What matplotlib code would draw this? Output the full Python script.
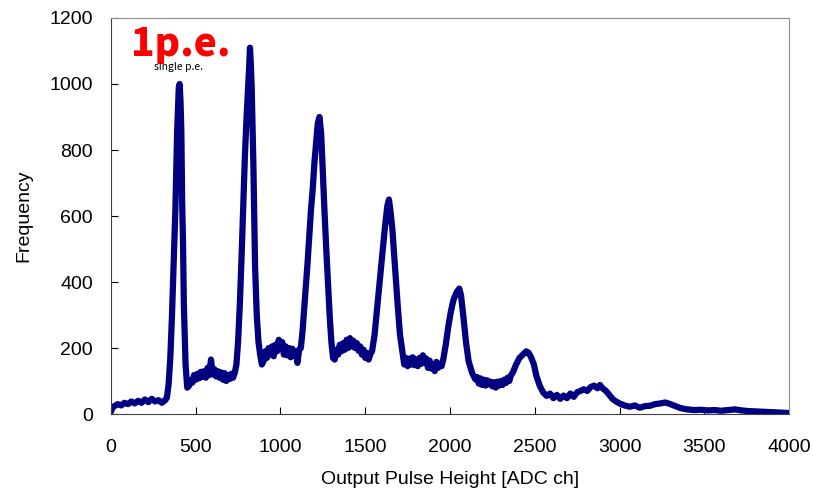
import matplotlib
matplotlib.use("Agg")
import matplotlib.pyplot as plt

# ADC channel and counts
adc = [0, 10, 20, 40, 60, 80, 100, 120, 140, 160, 180, 200, 220, 240, 260, 280, 300, 320,
       330, 340, 350, 360, 370, 380, 390, 400, 405, 410, 415, 420, 425, 430, 440, 450, 460,
       470, 480, 490, 500, 510, 520, 530, 540, 550, 560, 570, 580, 590, 600, 610, 620, 630,
       640, 650, 660, 670, 680, 690, 700, 710, 720, 730, 740,
       750, 760, 770, 780, 790, 800, 810, 815, 820, 825, 830, 840, 850, 860, 870, 880, 890, 900,
       910, 920, 930, 940, 950, 960, 970, 980, 990, 1000, 1010, 1020, 1030, 1040, 1050, 1060,
       1070, 1080, 1090, 1100, 1110, 1120,
       1130, 1140, 1150, 1160, 1170, 1180, 1190, 1200, 1210, 1220, 1230, 1240, 1250, 1260,
       1270, 1280, 1290, 1300, 1310, 1320,
       1330, 1340, 1350, 1360, 1370, 1380, 1390, 1400, 1410, 1420, 1430, 1440, 1450, 1460,
       1470, 1480, 1490, 1500, 1510, 1520, 1530, 1540,
       1555, 1570, 1585, 1600, 1615, 1630, 1640, 1650, 1660, 1675, 1690, 1705, 1720,
       1730, 1740, 1750, 1760, 1770, 1780, 1790, 1800, 1810, 1820, 1830, 1840, 1850, 1860,
       1870, 1880, 1890, 1900, 1910, 1920, 1930, 1940, 1950, 1960,
       1975, 1990, 2005, 2020, 2040, 2055, 2065, 2080, 2095, 2110, 2130, 2150,
       2160, 2170, 2180, 2190, 2200, 2210, 2220, 2230, 2240, 2250, 2260, 2270, 2280, 2290,
       2300, 2310, 2320, 2330, 2340, 2350, 2360, 2370,
       2390, 2410, 2430, 2450, 2465, 2480, 2495, 2510, 2530, 2550,
       2570, 2590, 2610, 2630, 2650, 2670, 2690, 2710, 2730, 2750, 2770,
       2790, 2810, 2830, 2850, 2870, 2885, 2900, 2920, 2940, 2960, 2980,
       3000, 3030, 3060, 3090, 3120, 3150, 3180, 3210, 3240, 3270, 3300, 3330, 3360,
       3400, 3440, 3480, 3520, 3560, 3600, 3640, 3680, 3720, 3760, 3800, 3840, 3880,
       3920, 3960, 4000]
counts = [8, 20, 24, 30, 26, 34, 30, 38, 32, 40, 34, 44, 36, 46, 38, 42, 34, 42,
          50, 90, 170, 300, 460, 620, 850, 990, 1000, 950, 860, 640, 520, 330, 150, 80, 85,
          102, 95, 118, 104, 122, 108, 128, 112, 130, 110, 140, 118, 165, 120, 136, 114, 130,
          110, 126, 104, 124, 100, 118, 106, 122, 110, 124, 150,
          220, 330, 470, 630, 780, 900, 1000, 1050, 1110, 1060, 990, 760, 450, 300, 220, 180, 150, 160,
          190, 170, 200, 180, 205, 175, 210, 190, 225, 200, 218, 180, 205, 178, 200, 172,
          198, 176, 190, 155, 195, 200,
          250, 320, 390, 460, 540, 620, 680, 760, 820, 880, 900, 850, 730, 610,
          500, 400, 300, 220, 170, 165,
          195, 180, 210, 190, 215, 195, 225, 200, 230, 205, 222, 200, 215, 192,
          205, 180, 195, 170, 185, 165, 182, 190,
          240, 320, 400, 480, 560, 630, 650, 610, 560, 450, 340, 240, 185,
          150, 170, 145, 168, 150, 172, 148, 165, 145, 170, 152, 178, 155, 168,
          140, 162, 138, 150, 130, 158, 140, 152, 145, 165,
          210, 265, 310, 345, 370, 380, 360, 290, 215, 160, 125, 105,
          112, 92, 108, 88, 104, 86, 102, 90, 98, 84, 96, 80, 98, 86,
          100, 88, 104, 94, 110, 100, 118, 125,
          150, 170, 180, 190, 185, 170, 150, 115, 85, 65,
          55, 62, 48, 58, 46, 56, 48, 62, 52, 66, 70,
          75, 70, 82, 86, 78, 88, 78, 70, 58, 45, 38,
          32, 26, 22, 26, 19, 24, 25, 30, 32, 35, 30, 24, 18,
          14, 12, 13, 11, 12, 10, 12, 14, 11, 9, 8, 7, 6,
          5, 4, 3]

xticks = [0, 500, 1000, 1500, 2000, 2500, 3000, 3500, 4000]
yticks = [0, 200, 400, 600, 800, 1000, 1200]

plt.rcParams["font.family"] = ["Liberation Sans", "DejaVu Sans"]

fig = plt.figure(figsize=(8.13, 4.93), dpi=100)
ax = fig.add_axes([0.1365, 0.1602, 0.834, 0.8033])

ax.plot(adc, counts, color="#000080", linewidth=4.5, solid_joinstyle="round")

ax.set_xlim(0, 4000)
ax.set_ylim(0, 1200)
ax.set_xticks(xticks)
ax.set_yticks(yticks)
ax.tick_params(direction="in", length=5, labelsize=14)
ax.tick_params(axis="x", pad=18)
ax.tick_params(axis="y", pad=13)
ax.set_xlabel("Output Pulse Height [ADC ch]", fontsize=14, labelpad=11)
ax.set_ylabel("Frequency", fontsize=14, labelpad=12)

for side in ["top", "right"]:
    ax.spines[side].set_color("#909090")
for side in ["left", "bottom"]:
    ax.spines[side].set_color("#404040")

ax.text(0.03, 0.905, "1p.e.", transform=ax.transAxes, color="red",
        fontsize=28, fontweight="black", family=["Noto Sans CJK JP", "DejaVu Sans"])
ax.text(0.1, 0.876, "single p.e.", transform=ax.transAxes, ha="center", va="center",
        fontsize=7.5, family=["Noto Sans CJK JP", "DejaVu Sans"])

fig.savefig("out.png", dpi=100)
